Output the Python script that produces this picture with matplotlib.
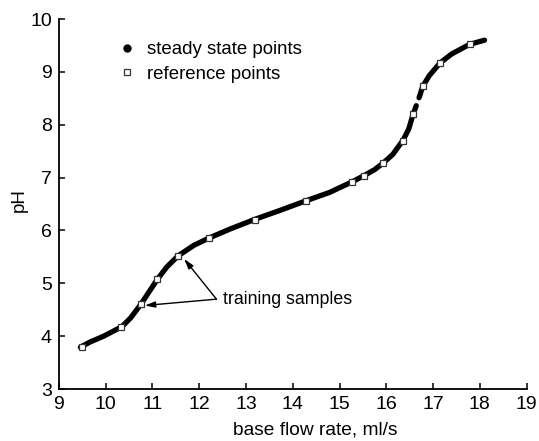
import matplotlib
matplotlib.use("Agg")
import matplotlib.pyplot as plt
from matplotlib.lines import Line2D

plt.rcParams['font.family'] = ['Liberation Sans', 'DejaVu Sans']

# steady state titration curve (two measured branches, gap near pH 8.4)
ss_flow_low = [9.46, 9.67, 9.96, 10.35, 10.54, 10.76, 10.93, 11.11, 11.31, 11.55,
               11.89, 12.22, 12.67, 13.19, 13.73, 14.28, 14.79, 15.27, 15.53,
               15.75, 15.94, 16.14, 16.36, 16.48, 16.57, 16.64]
ss_ph_low = [3.79, 3.89, 4.00, 4.18, 4.35, 4.61, 4.84, 5.08, 5.31, 5.52,
             5.72, 5.86, 6.03, 6.21, 6.38, 6.56, 6.72, 6.92, 7.04,
             7.15, 7.28, 7.44, 7.71, 7.92, 8.19, 8.36]
ss_flow_high = [16.70, 16.78, 16.92, 17.15, 17.40, 17.78, 18.10]
ss_ph_high = [8.51, 8.73, 8.93, 9.17, 9.34, 9.52, 9.60]

# reference points
ref_flow = [9.50, 10.34, 10.76, 11.10, 11.55, 12.22, 13.19, 14.28, 15.27,
            15.53, 15.93, 16.36, 16.57, 16.78, 17.15, 17.79]
ref_ph = [3.80, 4.18, 4.61, 5.08, 5.52, 5.85, 6.20, 6.55, 6.91,
          7.03, 7.27, 7.70, 8.20, 8.73, 9.17, 9.52]

# training samples pointed at by the annotation
train_tips = [(10.84, 4.58), (11.68, 5.46)]
train_tail = (12.37, 4.70)
train_text = (12.51, 4.69)

fig = plt.figure(figsize=(5.39, 4.41), dpi=100)
ax = fig.add_axes([0.1091, 0.1179, 0.868, 0.839])

for xs, ys in [(ss_flow_low, ss_ph_low), (ss_flow_high, ss_ph_high)]:
    ax.plot(xs, ys, '-', color='black', lw=3.8, solid_capstyle='round',
            solid_joinstyle='round', zorder=2)

ax.plot(ref_flow, ref_ph, 's', ms=5, mfc='white', mec='#333333', mew=0.9,
        ls='none', zorder=3)

for tip in train_tips:
    ax.annotate('', xy=tip, xytext=train_tail,
                arrowprops=dict(arrowstyle='-|>,head_length=0.6,head_width=0.18',
                                color='black', lw=1.0, shrinkA=0, shrinkB=0))
ax.text(train_text[0], train_text[1], 'training samples', fontsize=12.8,
        ha='left', va='center')

ax.set_xlim(9, 19)
ax.set_ylim(3, 10)
ax.set_xticks(range(9, 20))
ax.set_yticks(range(3, 11))
for side in ('top', 'right'):
    ax.spines[side].set_visible(False)
for side in ('left', 'bottom'):
    ax.spines[side].set_linewidth(1.3)
ax.tick_params(direction='in', length=4, width=1.1, labelsize=14)
ax.tick_params(axis='x', pad=5)
ax.tick_params(axis='y', pad=5)
ax.set_xlabel('base flow rate, ml/s', fontsize=13.8)
ax.set_ylabel('pH', fontsize=13.5)
ax.xaxis.set_label_coords(0.549, -0.0884)
ax.yaxis.set_label_coords(-0.066, 0.51)

handles = [Line2D([], [], marker='o', color='black', ls='none', ms=5),
           Line2D([], [], marker='s', mfc='white', mec='#333333', mew=0.9,
                  ls='none', ms=4.5)]
ax.legend(handles, ['steady state points', 'reference points'], loc='upper left',
          bbox_to_anchor=(0.09, 0.985), frameon=False, fontsize=13.4,
          handlelength=1.0, handletextpad=0.6, labelspacing=0.4)

fig.savefig('out.png', dpi=100)
